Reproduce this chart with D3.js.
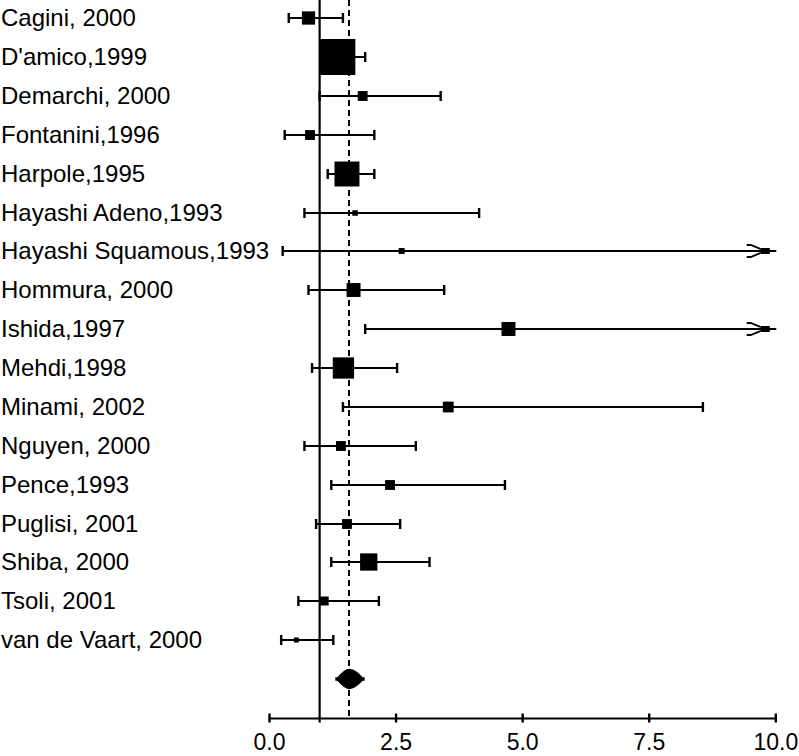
<!DOCTYPE html>
<html>
<head>
<meta charset="utf-8">
<script src="https://cdn.jsdelivr.net/npm/d3@7/dist/d3.min.js"></script>
<style>
  html, body { margin: 0; padding: 0; background: #fff; }
  svg { display: block; }
  text { font-family: "Liberation Sans", Arial, Helvetica, sans-serif; fill: #000; }
</style>
</head>
<body>
<svg id="chart" width="799" height="756"></svg>
<script>
// ---- data ----
const studies = ["Cagini, 2000", "D'amico,1999", "Demarchi, 2000", "Fontanini,1996", "Harpole,1995",
  "Hayashi Adeno,1993", "Hayashi Squamous,1993", "Hommura, 2000", "Ishida,1997", "Mehdi,1998",
  "Minami, 2002", "Nguyen, 2000", "Pence,1993", "Puglisi, 2001", "Shiba, 2000", "Tsoli, 2001",
  "van de Vaart, 2000"];
const estimates = [0.78, 1.35, 1.85, 0.81, 1.54, 1.70, 2.62, 1.67, 4.73, 1.47, 3.54, 1.42, 2.39, 1.54, 1.97, 1.09, 0.54];
const lowerCI   = [0.39, 1.15, 1.00, 0.31, 1.16, 0.70, 0.27, 0.78, 1.90, 0.85, 1.46, 0.70, 1.23, 0.93, 1.23, 0.58, 0.24];
const upperCI   = [1.46, 1.90, 3.39, 2.08, 2.08, 4.15, 15.2, 3.46, 11.4, 2.53, 8.57, 2.90, 4.66, 2.59, 3.17, 2.17, 1.27];
const weights   = [2.7, 20.0, 1.5, 1.5, 9.6, 0.47, 0.55, 3.0, 3.0, 7.0, 1.8, 1.5, 1.5, 1.5, 4.6, 1.25, 0.39];
const pooled = { estimate: 1.58, lower: 1.31, upper: 1.89 };
const nullValue = 1.0;
const tickValues = [0, 2.5, 5, 7.5, 10];
const tickLabels = ["0.0", "2.5", "5.0", "7.5", "10.0"];

// ---- layout ----
const svg = d3.select("#chart");
const x = d3.scaleLinear().domain([0, 10]).range([269, 775.3]);
const rowKeys = studies.concat(["__pooled__"]);
const yRaw = d3.scalePoint().domain(rowKeys).range([18.3, 679]);
const y = k => Math.round(yRaw(k));
const side = d3.scaleSqrt().domain([0, 20]).range([0, 36]);
const axisY = 718;

// reference lines
svg.append("line")
  .attr("x1", x(nullValue)).attr("x2", x(nullValue))
  .attr("y1", 0).attr("y2", axisY + 4.5)
  .attr("stroke", "#000").attr("stroke-width", 2.2);
svg.append("line")
  .attr("x1", x(pooled.estimate)).attr("x2", x(pooled.estimate))
  .attr("y1", 0).attr("y2", axisY)
  .attr("stroke", "#000").attr("stroke-width", 2)
  .attr("stroke-dasharray", "6,4");

// study rows
const rows = studies.map((s, i) => ({ name: s, est: estimates[i], lo: lowerCI[i], hi: upperCI[i], w: weights[i] }));
const xMax = x.domain()[1];
const g = svg.append("g");

rows.forEach(d => {
  const cy = y(d.name);
  const off = d.hi > xMax;
  const xr = off ? x(xMax) + 1 : x(d.hi);
  g.append("line")
    .attr("x1", x(d.lo)).attr("x2", xr)
    .attr("y1", cy).attr("y2", cy)
    .attr("stroke", "#000").attr("stroke-width", 2);
  // lower cap
  g.append("line")
    .attr("x1", x(d.lo)).attr("x2", x(d.lo))
    .attr("y1", cy - 5).attr("y2", cy + 5)
    .attr("stroke", "#000").attr("stroke-width", 2.4);
  if (!off) {
    g.append("line")
      .attr("x1", x(d.hi)).attr("x2", x(d.hi))
      .attr("y1", cy - 5).attr("y2", cy + 5)
      .attr("stroke", "#000").attr("stroke-width", 2.4);
  } else {
    const xe = x(xMax);
    g.append("path")
      .attr("d", `M${xe - 28.6},${cy - 6} L${xe - 24.6},${cy - 6} L${xe - 15},${cy - 2.2}`)
      .attr("fill", "none").attr("stroke", "#000").attr("stroke-width", 1.8);
    g.append("path")
      .attr("d", `M${xe - 28.6},${cy + 6} L${xe - 24.6},${cy + 6} L${xe - 15},${cy + 2.2}`)
      .attr("fill", "none").attr("stroke", "#000").attr("stroke-width", 1.8);
    g.append("rect")
      .attr("x", xe - 15).attr("y", cy - 3)
      .attr("width", 9.5).attr("height", 6)
      .attr("fill", "#000");
  }
  const s = side(d.w);
  g.append("rect")
    .attr("x", x(d.est) - s / 2).attr("y", cy - s / 2)
    .attr("width", s).attr("height", s)
    .attr("fill", "#000");
  svg.append("text")
    .attr("x", 1).attr("y", cy).attr("dy", "0.35em")
    .attr("font-size", 24)
    .text(d.name);
});

// pooled diamond
const py = y("__pooled__");
const xl = x(pooled.lower), xc = x(pooled.estimate), xh = x(pooled.upper);
svg.append("path")
  .attr("d", `M${xl + 2},${py} Q${xl + 10},${py - 9} ${xc},${py - 9} Q${xh - 10},${py - 9} ${xh - 2},${py} Q${xh - 10},${py + 9} ${xc},${py + 9} Q${xl + 10},${py + 9} ${xl + 2},${py} Z`)
  .attr("fill", "#000").attr("stroke", "#000").attr("stroke-width", 2.5)
  .attr("stroke-linejoin", "round");
svg.append("line")
  .attr("x1", xl).attr("x2", xh)
  .attr("y1", py).attr("y2", py)
  .attr("stroke", "#000").attr("stroke-width", 3.5);

// axis
const axis = d3.axisBottom(x).tickValues(tickValues)
  .tickFormat((d, i) => tickLabels[i]).tickSizeOuter(0);
const ax = svg.append("g").attr("transform", `translate(0,${axisY})`).call(axis);
ax.select(".domain").attr("stroke", "#000").attr("stroke-width", 2);
ax.selectAll(".tick line").attr("y1", -4.5).attr("y2", 4.5).attr("stroke", "#000").attr("stroke-width", 2.4);
ax.selectAll(".tick text")
  .attr("y", 16).attr("dy", "0.71em")
  .attr("font-size", 23)
  .attr("font-family", "'Liberation Sans', Arial, Helvetica, sans-serif")
  .attr("fill", "#000");
</script>
</body>
</html>
